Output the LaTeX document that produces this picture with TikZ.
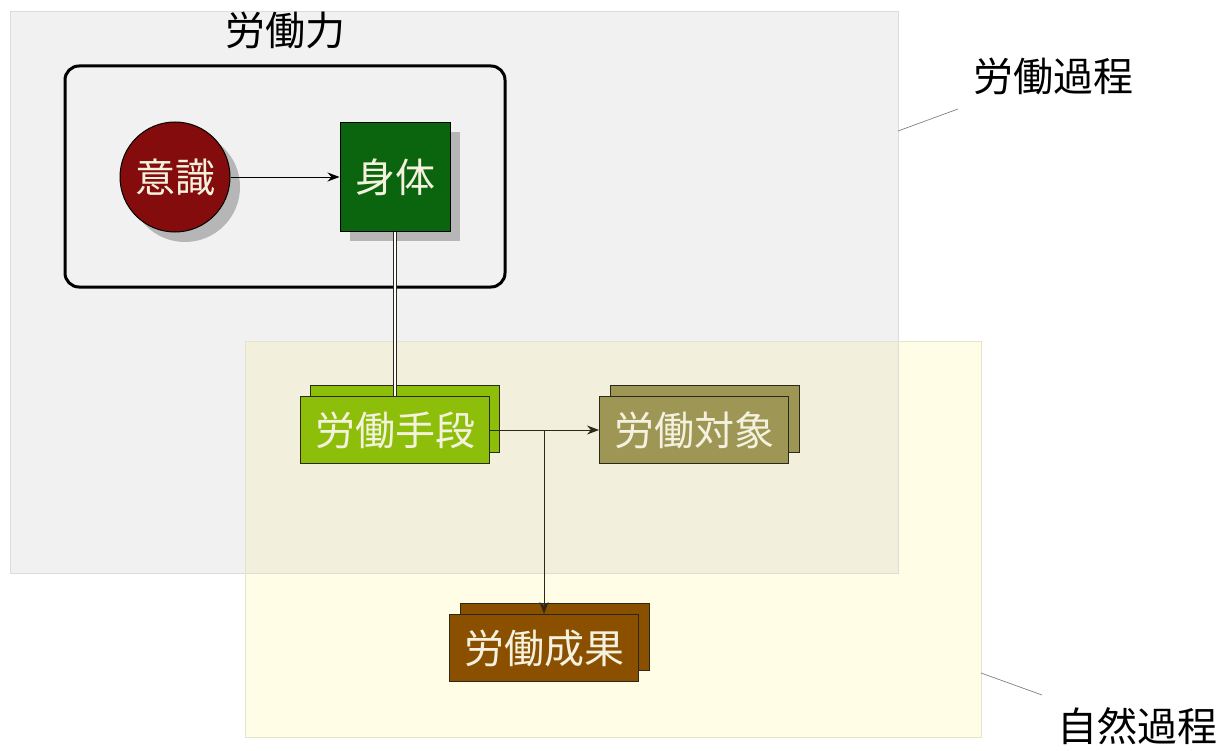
\documentclass[tikz,border=0pt]{standalone}
\usepackage{fontspec}
\setmainfont{Noto Sans CJK JP}
\usetikzlibrary{arrows.meta}
\definecolor{grayfill}{HTML}{F1F1F1}
\definecolor{grayedge}{HTML}{DCDCDC}
\definecolor{yelfill}{HTML}{FFFDE6}
\definecolor{yeledge}{HTML}{E6E4CC}
\definecolor{overfill}{HTML}{F2EFDC}
\definecolor{shadowc}{HTML}{B6B6B6}
\definecolor{redc}{HTML}{850C0C}
\definecolor{greenc}{HTML}{0B650F}
\definecolor{limec}{HTML}{8DBF0A}
\definecolor{olivec}{HTML}{9E9655}
\definecolor{brownc}{HTML}{8B4F00}
\definecolor{txtc}{HTML}{F4F1DE}
\definecolor{linec}{HTML}{2A2A1A}
\definecolor{pinc}{HTML}{808080}
\tikzset{
  jp/.style={font=\fontsize{40}{42}\selectfont},
  boxnode/.style={draw=linec, line width=1pt, minimum width=189pt, minimum height=67pt, inner sep=0pt, jp, text=txtc},
  backbox/.style={draw=linec, line width=1pt, minimum width=189pt, minimum height=67pt, inner sep=0pt},
  shadownode/.style={fill=shadowc, draw=none, inner sep=0pt},
  conn/.style={draw=linec, line width=0.9pt, -{Stealth[length=12pt,width=9pt]}},
  pinline/.style={draw=pinc, line width=0.7pt}
}
\begin{document}
\begin{tikzpicture}[x=1pt,y=-1pt]
\useasboundingbox (0,0) rectangle (1225,751);
% regions
\fill[grayfill] (10,12) rectangle (898,573);
\fill[yelfill] (245,341) rectangle (981,737);
\fill[overfill] (245,341) rectangle (898,573);
\draw[grayedge, line width=1pt] (10,12) rectangle (898,573);
\draw[yeledge, line width=1pt] (245,341) rectangle (981,737);
% labour power frame
\draw[line width=3pt, rounded corners=14pt] (65,66) rectangle (505,287);
\node[jp, text=black] (rodoryoku) at (285,30) {労働力};
% shadows
\node[shadownode, circle, minimum size=110pt] (ishikiS) at (185,187) {};
\node[shadownode, minimum width=110pt, minimum height=109pt] (shintaiS) at (405,187) {};
% main nodes
\node[circle, draw=black, line width=1pt, fill=redc, minimum size=110pt, inner sep=0pt, jp, text=txtc] (ishiki) at (175,177) {意識};
\node[draw=black, line width=1pt, fill=greenc, minimum width=110pt, minimum height=109pt, inner sep=0pt, jp, text=txtc] (shintai) at (395,177) {身体};
\draw[line width=0.9pt, draw=black, -{Stealth[length=12pt,width=9pt]}] (ishiki) -- (shintai);
% stacked boxes
\node[backbox, fill=limec] (shudanB) at (405,419) {};
\node[backbox, fill=olivec] (taishoB) at (705,419) {};
\node[backbox, fill=brownc] (seikaB) at (555,637) {};
\node[boxnode, fill=limec] (shudan) at (395,430) {労働手段};
\node[boxnode, fill=olivec] (taisho) at (694,430) {労働対象};
\node[boxnode, fill=brownc] (seika) at (544,648) {労働成果};
% double connector
\draw[double=white, double distance=2.5pt, line width=0.8pt, draw=linec] (shintai.south) -- (shudan.north);
% connectors
\coordinate (branch) at (544,430);
\draw[conn] (shudan.east) -- (taisho.west);
\draw[conn] (branch) -- (seika.north);
% region labels
\node[jp, text=black] (kateiL) at (1053,76) {労働過程};
\coordinate (pinA1) at (898,131);
\coordinate (pinA2) at (958,109);
\draw[pinline] (pinA1) -- (pinA2);
\node[jp, text=black] (shizenL) at (1137,726) {自然過程};
\coordinate (pinB1) at (981,673);
\coordinate (pinB2) at (1042,695);
\draw[pinline] (pinB1) -- (pinB2);
\end{tikzpicture}
\end{document}
